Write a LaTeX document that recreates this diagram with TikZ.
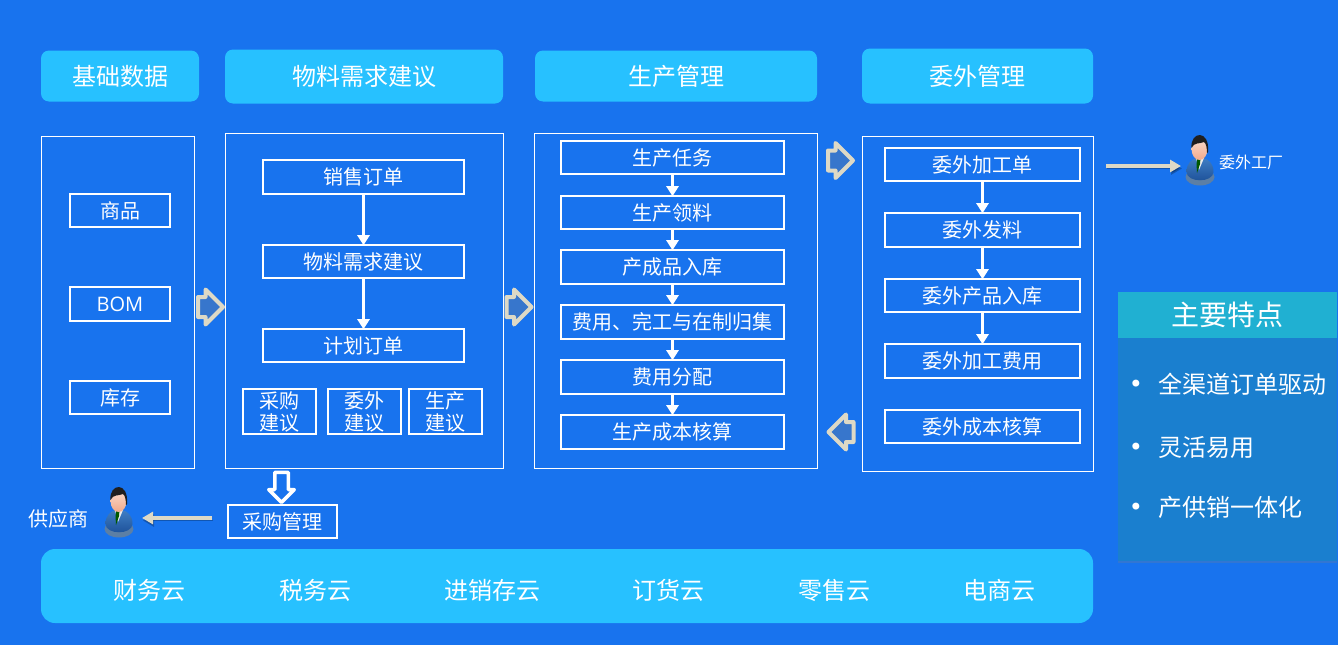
\documentclass[tikz,border=0pt]{standalone}
\usepackage{fontspec}
\setmainfont{Noto Sans CJK SC}
\newfontfamily\latinfont{Open Sans}
\newfontfamily\dotfont{DejaVu Sans}
\usetikzlibrary{shapes.arrows,shadows,arrows.meta}
\definecolor{bgblue}{HTML}{1873EE}
\definecolor{headblue}{HTML}{27C1FF}
\definecolor{cream}{HTML}{DDD9C6}
\definecolor{sidetop}{HTML}{20B0D2}
\definecolor{sidebody}{HTML}{1A7FCF}
\definecolor{suitlight}{HTML}{3F7EC4}
\definecolor{suitdark}{HTML}{1B4E96}
\definecolor{skintop}{HTML}{FBDCCB}
\definecolor{skinlow}{HTML}{F0A98C}
\tikzset{
	headbox/.style={fill=headblue,rounded corners=8pt,text=white,font=\fontsize{24}{26}\selectfont},
	panelbox/.style={draw=white,line width=0.9pt},
	flowbox/.style={draw=white,line width=1.6pt,text=white,inner sep=0pt,font=\fontsize{20}{22}\selectfont},
	flowarrow/.style={draw=white,line width=3pt,-{Triangle[length=10pt,width=12pt]},shorten >=-1pt},
	hollowarrow/.style={single arrow,draw=cream,line width=4pt,line join=round,inner xsep=1pt,inner ysep=8pt,minimum width=31pt,minimum height=25pt,single arrow head extend=7.5pt,single arrow head indent=0pt,drop shadow={shadow xshift=1.5pt,shadow yshift=-1.5pt,opacity=.3}},
	whitearrow/.style={single arrow,draw=white,line width=3.5pt,line join=round,inner sep=5pt,minimum width=25pt,minimum height=30pt,single arrow head extend=6pt,single arrow head indent=0pt,shape border rotate=270},
	thinarrow/.style={draw=cream,line width=4pt,-{Triangle[length=11pt,width=12pt]},preaction={draw=black,opacity=.25,transform canvas={shift={(1pt,-2.5pt)}}}},
	cloudlabel/.style={text=white,font=\fontsize{24}{26}\selectfont},
	sidelabel/.style={text=white,anchor=west,font=\fontsize{24}{26}\selectfont},
	sidedot/.style={text=white,inner sep=0pt,font=\dotfont\fontsize{24}{26}\selectfont},
	personbox/.style={minimum width=28pt,minimum height=50pt,inner sep=0pt},
	person/.pic={
		\fill[suitlight!55!gray] (0,16) ellipse (14.5pt and 8.5pt);
		\shade[top color=suitlight,bottom color=suitdark] (-13.5,11) .. controls (-13.5,2) and (-8,-2) .. (-3,-3) -- (3,-3) .. controls (8,-2) and (13.5,2) .. (13.5,11) .. controls (13,22) and (-13,22) .. (-13.5,11) -- cycle;
		\fill[white!85!gray] (-4,-3) -- (4,-3) -- (-1,9) -- cycle;
		\fill[green!35!black] (-2.5,-3) -- (0.5,-3) -- (0,3) -- (-3,12) -- (-3.5,3) -- cycle;
		\shade[top color=skintop,bottom color=skinlow] (-0.5,-12) ellipse (8pt and 11pt);
		\fill[black!88] (-8.5,-13) .. controls (-10,-30) and (10,-32) .. (8,-9) -- (7,-8) .. controls (7,-13) and (6,-18) .. (4,-19) .. controls (0,-17) and (-6,-19) .. (-8.5,-13) -- cycle;
	}
}
\begin{document}
\begin{tikzpicture}[x=1pt,y=-1pt]
	\useasboundingbox (0,0) rectangle (1338,645);
	\fill[bgblue] (0,0) rectangle (1338,645);
	% headers
	\node[headbox,minimum width=158pt,minimum height=51pt] (basehead) at (120,76) {基础数据};
	\node[headbox,minimum width=278pt,minimum height=54pt] (planhead) at (364,76.5) {物料需求建议};
	\node[headbox,minimum width=282pt,minimum height=51pt] (prodhead) at (676,76) {生产管理};
	\node[headbox,minimum width=231pt,minimum height=55pt] (outhead) at (977.5,76) {委外管理};
	% panels
	\node[panelbox,minimum width=153pt,minimum height=332pt] (basepanel) at (117.5,302.5) {};
	\node[panelbox,minimum width=278pt,minimum height=335pt] (planpanel) at (364,301) {};
	\node[panelbox,minimum width=283pt,minimum height=335pt] (prodpanel) at (675.5,301) {};
	\node[panelbox,minimum width=231pt,minimum height=335pt] (outpanel) at (977.5,304) {};
	% base data
	\node[flowbox,minimum width=100pt,minimum height=33pt] (goods) at (120,210.5) {商品};
	\node[flowbox,minimum width=100pt,minimum height=34pt] (bom) at (120,304) {\latinfont BOM};
	\node[flowbox,minimum width=100pt,minimum height=33pt] (stock) at (120,397.5) {库存};
	% material planning
	\node[flowbox,minimum width=201pt,minimum height=34pt] (salesorder) at (363.5,177) {销售订单};
	\node[flowbox,minimum width=201pt,minimum height=33pt] (mrp) at (363.5,261.5) {物料需求建议};
	\node[flowbox,minimum width=201pt,minimum height=33pt] (planorder) at (363.5,345.5) {计划订单};
	\node[flowbox,minimum width=73pt,minimum height=45pt,align=center] (buysug) at (279.5,411.5) {采购\\建议};
	\node[flowbox,minimum width=73pt,minimum height=45pt,align=center] (outsug) at (364.5,411.5) {委外\\建议};
	\node[flowbox,minimum width=73pt,minimum height=45pt,align=center] (prodsug) at (445.5,411.5) {生产\\建议};
	\draw[flowarrow] (salesorder) -- (mrp);
	\draw[flowarrow] (mrp) -- (planorder);
	% production
	\node[flowbox,minimum width=223pt,minimum height=33pt] (task) at (672.5,157.5) {生产任务};
	\node[flowbox,minimum width=223pt,minimum height=33pt] (pick) at (672.5,212.5) {生产领料};
	\node[flowbox,minimum width=223pt,minimum height=34pt] (instock) at (672.5,267) {产成品入库};
	\node[flowbox,minimum width=223pt,minimum height=34pt] (collect) at (672.5,322) {费用、完工与在制归集};
	\node[flowbox,minimum width=223pt,minimum height=34pt] (allot) at (672.5,377) {费用分配};
	\node[flowbox,minimum width=223pt,minimum height=34pt] (cost) at (672.5,432) {生产成本核算};
	\draw[flowarrow] (task) -- (pick);
	\draw[flowarrow] (pick) -- (instock);
	\draw[flowarrow] (instock) -- (collect);
	\draw[flowarrow] (collect) -- (allot);
	\draw[flowarrow] (allot) -- (cost);
	% outsourcing
	\node[flowbox,minimum width=195pt,minimum height=33pt] (outorder) at (982.5,164.5) {委外加工单};
	\node[flowbox,minimum width=195pt,minimum height=34pt] (outsend) at (982.5,230) {委外发料};
	\node[flowbox,minimum width=195pt,minimum height=33pt] (outstock) at (982.5,295.5) {委外产品入库};
	\node[flowbox,minimum width=195pt,minimum height=34pt] (outfee) at (982.5,361) {委外加工费用};
	\node[flowbox,minimum width=195pt,minimum height=33pt] (outcost) at (982.5,426.5) {委外成本核算};
	\draw[flowarrow] (outorder) -- (outsend);
	\draw[flowarrow] (outsend) -- (outstock);
	\draw[flowarrow] (outstock) -- (outfee);
	% block arrows
	\node[hollowarrow] (basetoplan) at (205.5,307) {};
	\node[hollowarrow] (plantoprod) at (514,307) {};
	\node[hollowarrow] (prodtoout) at (835.5,160.5) {};
	\node[hollowarrow,shape border rotate=180] (outtoprod) at (846,432) {};
	\node[whitearrow] (plantobuy) at (281.5,484) {};
	% purchasing and people
	\node[flowbox,minimum width=109pt,minimum height=33pt] (purchase) at (282.5,521.5) {采购管理};
	\node[personbox] (supplier) at (119,513) {};
	\pic at (supplier) {person};
	\node[personbox] (factory) at (1200,161) {};
	\pic at (factory) {person};
	\node[text=white,font=\fontsize{20}{22}\selectfont] (supplierlabel) at (58.5,519) {供应商};
	\node[text=white,font=\fontsize{16}{18}\selectfont] (factorylabel) at (1251,162) {委外工厂};
	\coordinate (suppliertail) at (212,518);
	\coordinate (suppliertip) at (142,518);
	\coordinate (factorytail) at (1106,166);
	\coordinate (factorytip) at (1181,166);
	\draw[thinarrow] (suppliertail) -- (suppliertip);
	\draw[thinarrow] (factorytail) -- (factorytip);
	% cloud bar
	\node[fill=headblue,rounded corners=14pt,minimum width=1052pt,minimum height=74pt] (cloudbar) at (567,586) {};
	\node[cloudlabel] (finance) at (149,590) {财务云};
	\node[cloudlabel] (tax) at (315,590) {税务云};
	\node[cloudlabel] (trade) at (492.5,590) {进销存云};
	\node[cloudlabel] (ordering) at (668,590) {订货云};
	\node[cloudlabel] (retail) at (834,590) {零售云};
	\node[cloudlabel] (ecom) at (999.5,590) {电商云};
	% features
	\node[fill=sidebody,minimum width=219pt,minimum height=269pt,drop shadow={shadow xshift=0pt,shadow yshift=-2pt,opacity=.25}] (sidebodybox) at (1227.5,426.5) {};
	\node[fill=sidetop,text=white,minimum width=219pt,minimum height=46pt,font=\fontsize{28}{30}\selectfont] (sidehead) at (1227.5,315) {主要特点};
	\node[sidedot] (dota) at (1136,386) {•};
	\node[sidedot] (dotb) at (1136,449) {•};
	\node[sidedot] (dotc) at (1136,509) {•};
	\node[sidelabel] (channel) at (1154.5,384) {全渠道订单驱动};
	\node[sidelabel] (flexible) at (1154.5,447) {灵活易用};
	\node[sidelabel] (unified) at (1154.5,507) {产供销一体化};
\end{tikzpicture}
\end{document}
